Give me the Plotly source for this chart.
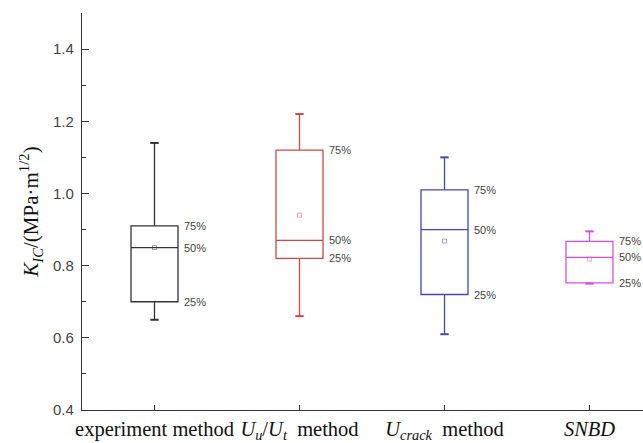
import plotly.graph_objects as go

categories = ["experiment method", "U_u/U_t method", "U_crack method", "SNBD"]
tick_labels = ["experiment method",
               "<i>U<sub>u</sub></i>/<i>U<sub>t</sub></i>  method",
               "<i>U<sub>crack</sub></i>  method",
               "<i>SNBD</i>"]
positions = [1, 2, 3, 4]
whisker_low = [0.65, 0.66, 0.61, 0.75]
q1 = [0.70, 0.82, 0.72, 0.752]
median = [0.85, 0.87, 0.90, 0.823]
q3 = [0.91, 1.12, 1.01, 0.867]
whisker_high = [1.14, 1.22, 1.10, 0.895]
mean = [0.85, 0.94, 0.868, 0.818]
colors = ["#333333", "#c94a4a", "#4646b4", "#dd4ddd"]
box_width = 0.324

fig = go.Figure()
for i in range(4):
    fig.add_trace(go.Box(
        x=[positions[i]], q1=[q1[i]], median=[median[i]], q3=[q3[i]],
        lowerfence=[whisker_low[i]], upperfence=[whisker_high[i]],
        width=box_width, fillcolor="rgba(0,0,0,0)",
        line=dict(color=colors[i], width=1.3), whiskerwidth=0,
        boxpoints=False, showlegend=False, hoverinfo="skip"))
    # whisker caps
    fig.add_trace(go.Scatter(
        x=[positions[i], positions[i]], y=[whisker_low[i], whisker_high[i]],
        mode="markers", marker=dict(symbol="line-ew-open", size=6, color=colors[i],
                                    line=dict(color=colors[i], width=2)),
        showlegend=False, hoverinfo="skip"))
    # mean
    fig.add_trace(go.Scatter(
        x=[positions[i]], y=[mean[i]], mode="markers",
        marker=dict(symbol="square-open", size=4, color=colors[i],
                    line=dict(color=colors[i], width=0.8), opacity=0.6),
        showlegend=False, hoverinfo="skip"))
    for val, txt in [(q3[i], "75%"), (median[i], "50%"), (q1[i], "25%")]:
        fig.add_annotation(x=positions[i] + box_width / 2, y=val, text=txt,
                           showarrow=False, xanchor="left", yanchor="middle",
                           xshift=4,
                           font=dict(family="Liberation Sans", size=11, color="#444444"))

fig.update_layout(
    width=643, height=443,
    margin=dict(l=82, r=0, t=13, b=27),
    plot_bgcolor="white", paper_bgcolor="white",
    xaxis=dict(range=[0.5, 4.369], tickvals=positions, ticktext=tick_labels,
               showline=True, linecolor="#333333", linewidth=1.3,
               ticks="inside", ticklen=5, tickcolor="#333333",
               showgrid=False, zeroline=False,
               tickfont=dict(family="Liberation Serif", size=20.5, color="#111111")),
    yaxis=dict(range=[0.4, 1.5], tickvals=[0.4, 0.6, 0.8, 1.0, 1.2, 1.4],
               ticktext=["0.4", "0.6", "0.8", "1.0", "1.2", "1.4"],
               showline=True, linecolor="#333333", linewidth=1.3,
               ticks="inside", ticklen=7, tickcolor="#333333",
               ticklabelstandoff=4,
               minor=dict(ticks="inside", ticklen=4, dtick=0.1, tick0=0.4, tickcolor="#333333"),
               showgrid=False, zeroline=False,
               tickfont=dict(family="Liberation Sans", size=15, color="#444444"),
               title=dict(text="<i>K</i><sub><i>IC</i></sub>/(MPa·m<sup>1/2</sup>)",
                          font=dict(family="Liberation Serif", size=21, color="#111111"),
                          standoff=8)),
)
fig.write_html("out.html")
